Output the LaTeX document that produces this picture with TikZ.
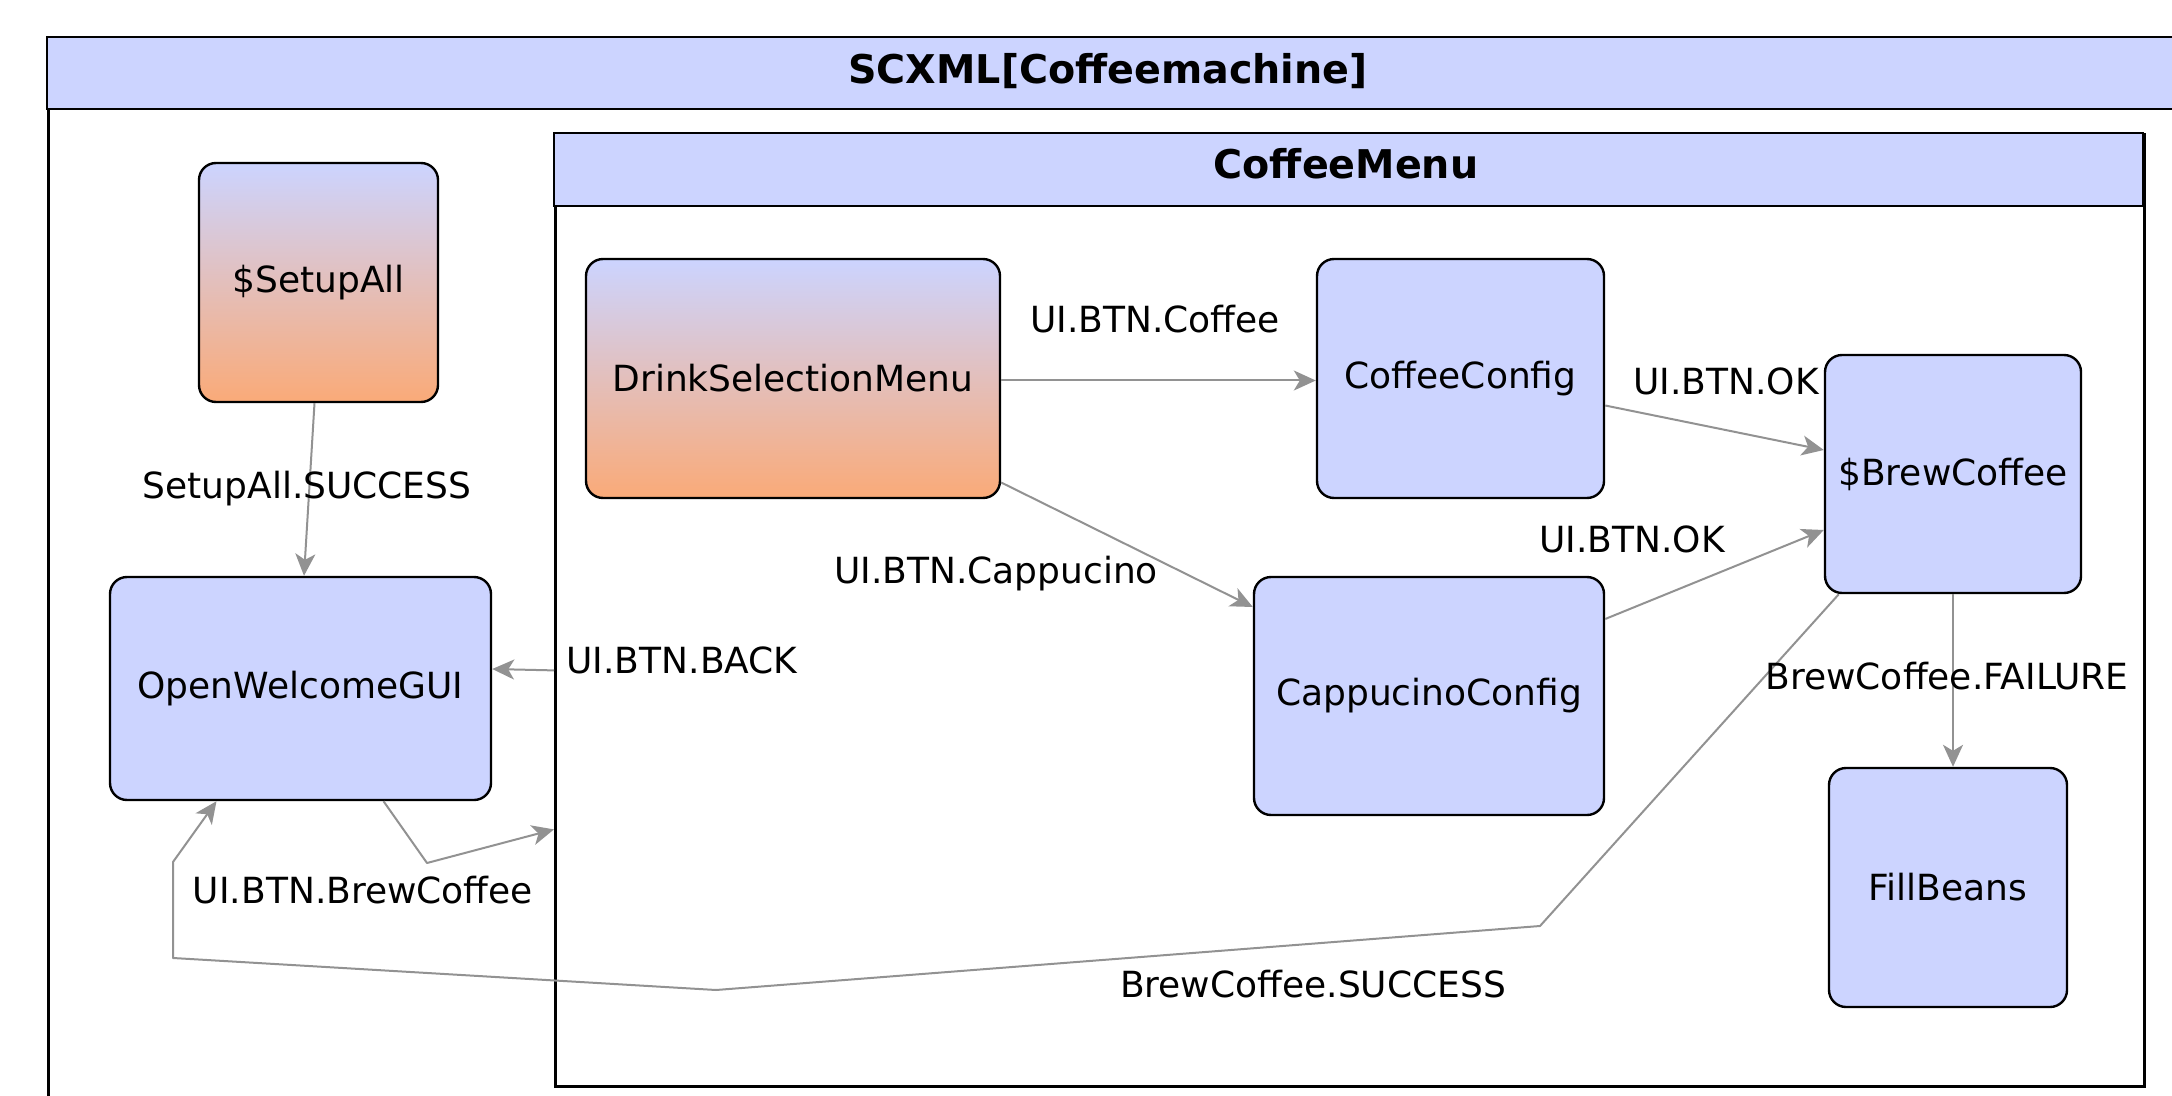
\documentclass[tikz,border=0pt]{standalone}
\usepackage{fontspec}
\setmainfont{DejaVu Sans}
\usetikzlibrary{arrows.meta,calc}
\definecolor{statefill}{HTML}{CCD4FF}
\definecolor{initfill}{HTML}{FAAA78}
\definecolor{edgegray}{HTML}{929292}
\begin{document}
\begin{tikzpicture}[x=0.5pt,y=-0.5pt,
  font=\fontsize{18}{21}\selectfont,
  container/.style={draw=black, line width=1.4pt, inner sep=0pt},
  titlebar/.style={fill=statefill, draw=black, line width=1.4pt},
  boxtitle/.style={font=\fontsize{19.8}{23}\selectfont\bfseries, anchor=base, inner sep=0pt},
  state/.style={draw=black, line width=1.2pt, rounded corners=8.5pt, fill=statefill, inner sep=0pt},
  initstate/.style={state, top color=statefill, bottom color=initfill},
  trans/.style={draw=edgegray, line width=1pt, line join=round,
    -{Stealth[length=11pt,width=10pt,inset=3pt]}},
  evt/.style={anchor=base, inner sep=0pt}
]
\useasboundingbox (0,0) rectangle (2172,1096);
\clip (0,0) rectangle (2172,1096);

% top-level state machine
\node[container, anchor=north west, minimum width=1076.5pt, minimum height=541.5pt] (machine) at (47,37) {};
\draw[titlebar] (47,37) rectangle (2200,109);
\node[boxtitle] (machinetitle) at (1108,84) {SCXML[Coffeemachine]};

% compound state CoffeeMenu
\node[container, anchor=north west, minimum width=794.5pt, minimum height=476pt] (menu) at (554,133) {};
\draw[titlebar] (554,133) rectangle (2143,206);
\node[boxtitle] (menutitle) at (1346,179) {CoffeeMenu};

% states
\node[initstate, minimum width=119.5pt, minimum height=119.5pt] (setup) at (318.5,282.5) {\$SetupAll};
\node[state, minimum width=190.5pt, minimum height=111.5pt] (welcome) at (300.5,688.5) {OpenWelcomeGUI};
\node[initstate, minimum width=207pt, minimum height=119.5pt] (drink) at (793,378.5) {DrinkSelectionMenu};
\node[state, minimum width=143.5pt, minimum height=119.5pt] (coffee) at (1460.5,378.5) {CoffeeConfig};
\node[state, minimum width=175pt, minimum height=119pt] (capp) at (1429,696) {CappucinoConfig};
\node[state, minimum width=128pt, minimum height=119pt] (brew) at (1953,474) {\$BrewCoffee};
\node[state, minimum width=119pt, minimum height=119.5pt] (fill) at (1948,887.5) {FillBeans};

% bend points of the routed transitions
\coordinate (b1) at (427,863);
\coordinate (s1) at (1540,926);
\coordinate (s2) at (716,990);
\coordinate (s3) at (173,958);
\coordinate (s4) at (173,862);

% transitions
\draw[trans] ($(setup.south)+(-4,0)$) -- ($(welcome.north)+(3.5,0)$);
\draw[trans] ($(drink.east)+(0,2)$) -- ($(coffee.west)+(0,2)$);
\draw[trans] ($(drink.east)+(0,104)$) -- ($(capp.west)+(0,-89)$);
\draw[trans] ($(coffee.east)+(0,27)$) -- ($(brew.west)+(0,-24)$);
\draw[trans] ($(capp.east)+(0,-77)$) -- ($(brew.west)+(0,56)$);
\draw[trans] (brew.south) -- (brew.south |- fill.north);
\draw[trans] ($(menu.west)+(0,60)$) -- ($(welcome.east)+(0,-19.5)$);
\draw[trans] ($(welcome.south)+(83,0)$) -- (b1) -- ($(menu.west)+(0,219)$);
\draw[trans] ($(brew.south west)+(15,0)$) -- (s1) -- (s2) -- (s3) -- (s4) -- ($(welcome.south)+(-84,0)$);

% event labels
\node[evt] (l1) at (307,498) {SetupAll.SUCCESS};
\node[evt] (l2) at (1155,333) {UI.BTN.Coffee};
\node[evt] (l3) at (996,583) {UI.BTN.Cappucino};
\node[evt] (l4) at (1726,394) {UI.BTN.OK};
\node[evt] (l5) at (1632,552) {UI.BTN.OK};
\node[evt] (l6) at (1947,689) {BrewCoffee.FAILURE};
\node[evt] (l7) at (682,673) {UI.BTN.BACK};
\node[evt] (l8) at (363,903) {UI.BTN.BrewCoffee};
\node[evt] (l9) at (1313,997) {BrewCoffee.SUCCESS};
\end{tikzpicture}
\end{document}
